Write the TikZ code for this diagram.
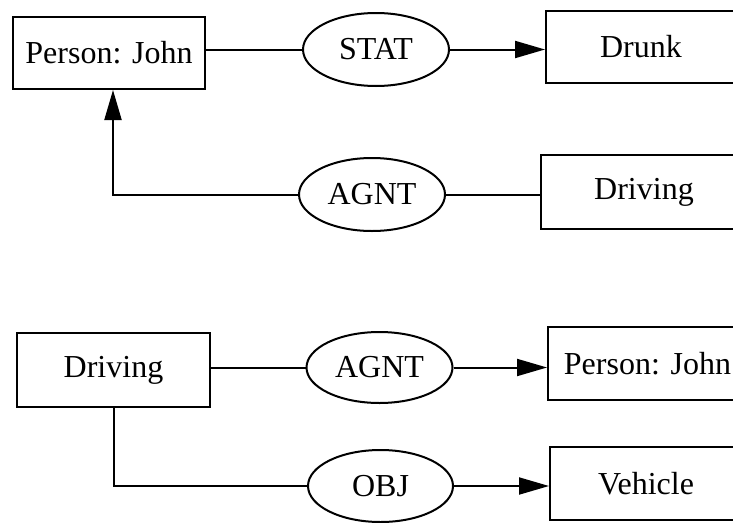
\documentclass[tikz,border=0pt]{standalone}
\usepackage{fontspec}
\setmainfont{Liberation Serif}
\usetikzlibrary{shapes.geometric,arrows.meta}
\begin{document}
\begin{tikzpicture}[x=1pt,y=-1pt,
  line width=2pt,
  concept/.style={draw, rectangle, inner sep=0pt, font=\fontsize{32}{36}\selectfont},
  relation/.style={draw, ellipse, inner sep=0pt, minimum width=146pt, minimum height=72pt,
                   font=\fontsize{32}{36}\selectfont},
  link/.style={line width=2pt},
  arrowlink/.style={line width=2pt, -{Triangle[length=30pt,width=17pt]}}]
\clip (0,0) rectangle (733,522);
\fill[white] (0,0) rectangle (733,522);

% first graph: John is drunk, John is the agent of driving
\node[concept, minimum width=192pt, minimum height=72pt] (p1) at (109,53) {Person: John};
\node[relation, minimum height=73pt] (stat) at (376,49.5) {STAT};
\node[concept, minimum width=190pt, minimum height=72pt] (drunk) at (641,47) {Drunk};
\draw[link] (p1.east |- stat.west) -- (stat.west);
\draw[arrowlink] (stat.east) -- (stat.east -| drunk.west);

\node[relation, minimum height=73pt] (agnt1) at (372,194.5) {AGNT};
\node[concept, minimum width=206pt, minimum height=74pt] (drv1) at (644,192) {Driving};
\draw[link] (drv1.west |- agnt1.east) -- (agnt1.east);
\coordinate (bend1) at (113,194.5);
\draw[arrowlink] (agnt1.west) -- (bend1) -- (bend1 |- p1.south);

% second graph: driving with agent John and object vehicle
\node[concept, minimum width=193pt, minimum height=74pt] (drv2) at (113.5,370) {Driving};
\node[relation, minimum height=71pt] (agnt2) at (379.5,367.5) {AGNT};
\node[concept, minimum width=199pt, minimum height=73pt] (p2) at (647.5,363.5) {Person: John};
\draw[link] (drv2.east |- agnt2.west) -- (agnt2.west);
\draw[arrowlink] (agnt2.east) -- (agnt2.east -| p2.west);

\node[relation, minimum width=145pt] (obj) at (380.5,486) {OBJ};
\node[concept, minimum width=192pt, minimum height=73pt] (veh) at (646,483.5) {Vehicle};
\coordinate (bend2) at (114,486);
\draw[link] (drv2.south -| bend2) -- (bend2) -- (obj.west);
\draw[arrowlink] (obj.east) -- (obj.east -| veh.west);
\end{tikzpicture}
\end{document}
